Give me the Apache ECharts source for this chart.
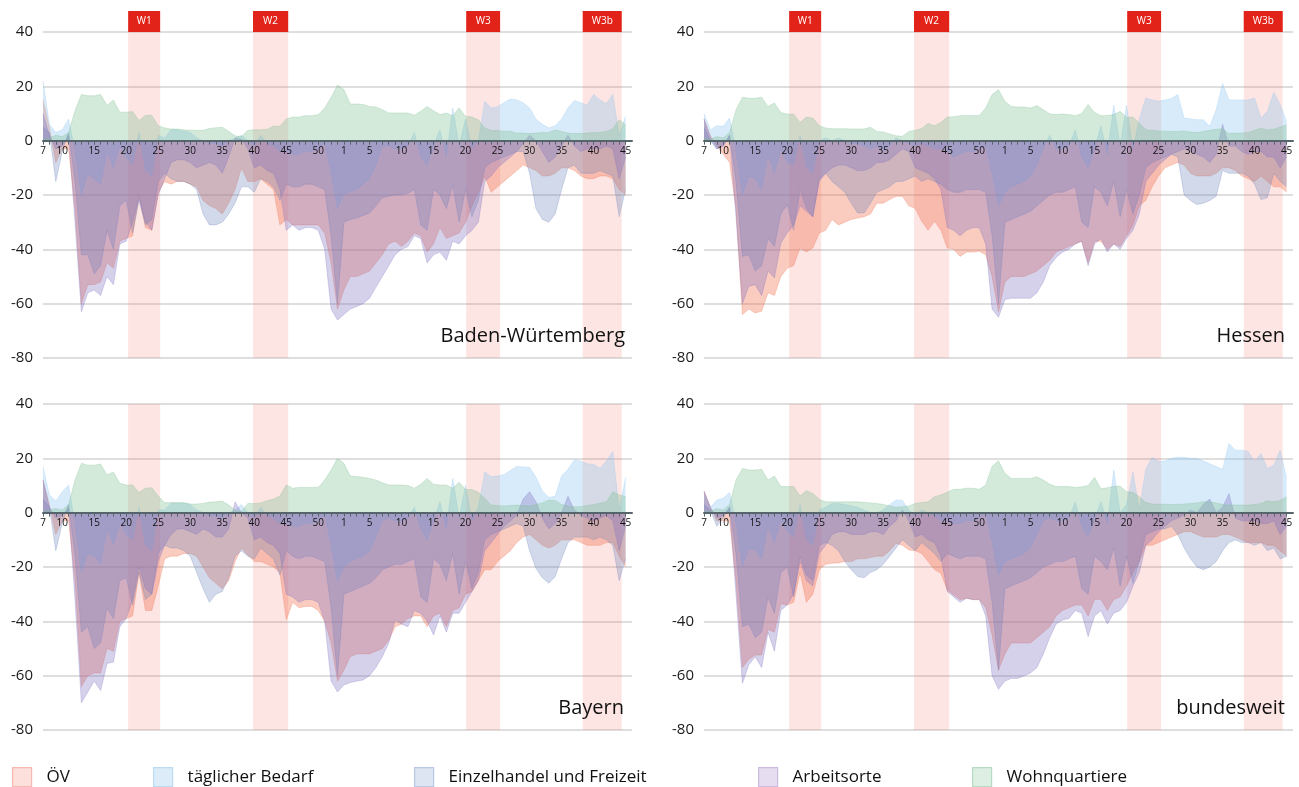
<!DOCTYPE html>
<html><head><meta charset="utf-8">
<script src="https://cdn.jsdelivr.net/npm/echarts@6/dist/echarts.min.js"></script>
<style>html,body{margin:0;padding:0;background:#fff}#c{width:1299px;height:787px}</style>
</head><body><div id="c"></div>
<script>
// ---------- tick labels / categories ----------
const weeks2020 = [7,8,9,10,11,12,13,14,15,16,17,18,19,20,21,22,23,24,25,26,27,28,29,30,31,32,33,34,35,36,37,38,39,40,41,42,43,44,45,46,47,48,49,50,51,52,53];
const weeks2021 = [1,2,3,4,5,6,7,8,9,10,11,12,13,14,15,16,17,18,19,20,21,22,23,24,25,26,27,28,29,30,31,32,33,34,35,36,37,38,39,40,41,42,43,44,45];
const yMin = -80, yMax = 40, yStep = 20;
const seriesNames = ['ÖV', 'täglicher Bedarf', 'Einzelhandel und Freizeit', 'Arbeitsorte', 'Wohnquartiere'];
const regions = ['Baden-Würtemberg', 'Hessen', 'Bayern', 'bundesweit'];
// survey waves (year, start week, end week)
const waves = [
  {label: 'W1', year: 2020, from: 20.3, to: 25.3},
  {label: 'W2', year: 2020, from: 39.8, to: 45.3},
  {label: 'W3', year: 2021, from: 20.1, to: 25.4},
  {label: 'W3b', year: 2021, from: 38.3, to: 44.4}
];

// ---------- Baden-Württemberg ----------
const bwOEV = [15,5,-8,-3,-3,-25,-60,-53,-53,-52, -45,-47,-37,-36,-35,-20,-32,-33,-19,-15, -16,-15,-15,-16,-17,-22,-24,-25,-27,-23, -18,-10,-15,-15,-14,-16,-18,-31,-29,-31, -31,-31,-31,-31,-34,-45,-62,
  -55,-50,-50,-49,-48,-45,-42,-38,-37,-39, -37,-34,-35,-41,-38,-32,-36,-35,-34,-30, -24,-19,-13,-19,-17,-15,-13,-11,-9,-10, -11,-13,-13,-12,-10,-10,-11,-13,-14,-14, -13,-13,-14,-18,-20];
const bwBedarf = [22,6,3,4,8,-4,-20,-12,-14,-16, -4,-10,-2,-6,-9,3,-11,-13,2,1, 4,4,3.5,3,1,0,-1,-1,-2,0, 1,2,0,-2,2,-1,-2,-4,-4,-5, -5,-4,-4,-3,-1,-12,-25,
  -20,-18.6,-18,-16,-14,-9,-2,-2,-3,-3, -2,3,-6,-9,-2,4,-6,12,-2,8, -3,0,14.5,12,12.5,14,15.3,15,14,12, 8,6,4.7,5.5,8,12,14.8,14,13,17, 15,13.6,17,2,9];
const bwHandel = [5,3,-15,-4,3,-15,-42,-42,-49,-46, -33,-40,-24,-22,-34,-22,-31,-29,-15,-12, -14,-15,-15,-16,-18,-27,-31,-31,-30,-27, -23,-17,-17,-19,-14,-15,-17,-22,-16,-17, -17,-16,-16,-17,-18,-35,-60,
  -30,-29,-28.5,-27.5,-26.6,-24,-21,-20.5,-20,-20, -19.4,-18,-31,-33,-18,-20,-25,-16.5,-30,-18, -28,-22,-10,-8,-7,-6,-5,-4,-4,-12, -25,-29,-30,-27,-18,-10,-9,-12,-12,-12, -11,-12,-13,-28,-18];
const bwArbeit = [10,2,-3,-2,2,-30,-63,-56,-55,-57, -50,-53,-38,-37,-30,-21,-30,-33,-20,-14, -8,-7,-7,-8,-10,-9,-8,-9,-12,-6, 1,0.5,-3,-10,-9,-11,-12,-18,-33,-31, -33,-32,-32,-33,-40,-62,-66,
  -64,-62,-61,-60,-58,-54,-50,-46,-42,-40, -39,-35,-36,-45,-42,-41,-44,-37,-38,-35, -33,-30,-15,-13,-10,-8,-6,-4,-1,2, 0,-4,-8,-6,-2,2,-2,-4,-3,-3, -3,-2,-3,-14,-6];
const bwWohnen = [0.5,1,2,1.5,3,11,17,16.5,16.5,17, 13,15,10.5,10.5,10.7,7.4,9.3,9.3,5.5,4.7, 4.3,4.3,4,3.8,3.8,3.8,4.5,4.8,4.9,3.5, 1.8,1.5,3.8,4,4,4.2,5.3,5.3,8,8.7, 8.7,9.2,9.2,9.6,12,16,20.5,
  18.8,13.5,13.5,13.3,12.6,12.4,11.4,10.2,10.2,10.2, 10.2,9.4,10.8,12.6,11,9.6,10.2,9.2,12,9, 8.7,7.7,4.7,3.7,3.7,3.5,3.5,2.8,2.8,2.6, 2.8,3,3,4,3.4,2.8,2.6,2.6,2.8,3, 3,3.4,4.4,7.7,5.9];

// ---------- Hessen ----------
const heOEV = [8,2,-2,-5,-8,-25,-64,-62,-63.4,-62.8, -56,-57,-50,-47,-46,-39.5,-41,-39.5,-34,-33, -29,-31,-30,-29,-28.5,-28,-27,-23,-23,-21.7, -20.5,-20.5,-24,-25,-29.7,-33,-29.7,-33,-39.5,-40, -42.6,-41,-41,-40.7,-42,-50,-63,
  -52,-50,-50,-50,-49,-48,-46,-44,-41,-40, -39,-38,-37,-45,-37,-37,-40,-38,-39,-35, -31,-24,-22,-17,-13,-10,-9,-8,-9,-12, -13,-13,-13,-12,-10,-10,-11,-13,-14,-15, -13,-15,-17,-17,-19];
const heBedarf = [10,4,5.5,5.3,8.3,-4,-20,-13,-14,-18, -5,-12,-3,-8,-9,2,-10,-12,0,1, 0,1,0,-1,-1,-2,-3,-2,-4,-2, 1,0,-1,-2,-1,-2,-3,-3,-4,-6, -5,-4,-4,-3,-2,-12,-24,
  -19,-17,-16,-15,-13,-9,-3,2,-3,-3, -2,4,-6,-10,-3,5.5,-5,13,-2,13, -3,8,15.7,15,14.5,15,15.5,17,8.3,8, 7.7,7.7,5.3,11.4,21,15,15,15,15,15.7, 8.3,10.8,17.8,13.3,7];
const heHandel = [5,0,-3,-2,2,-15,-42.6,-42,-48,-46, -36,-39,-27,-23.5,-33,-18,-25,-28,-14,-12, -15,-17,-19,-23,-26.6,-26.6,-23,-19,-18,-17, -15,-15,-14,-13,-15,-14,-15,-16,-18,-19, -19,-18,-18,-18,-19,-35,-60,
  -30,-29,-28,-27,-26,-24,-22,-20,-19,-19, -18,-17,-30,-32,-17,-19,-24,-15,-28,-18, -27,-20,-10,-8,-7,-6,-5,-6,-20,-22, -23.5,-23,-22,-20.5,-11,-12,-12,-12,-13,-16, -21.7,-21,-12,-15,-17];
const heArbeit = [8,1,-3,-2,2,-28,-60,-53.6,-53,-57, -48,-50.5,-37.7,-34,-31,-24,-26,-28,-15,-12, -10,-9,-9,-10,-11,-11,-10,-8,-8,-7, -5,-3,-4,-10,-11,-12,-14,-18,-32,-33, -35,-33,-32,-32,-38,-62,-65,
  -58.5,-58,-58,-58,-58,-56,-52,-46,-43,-41, -40,-38,-37,-46,-38,-36,-41,-38,-40,-36, -33,-27,-15,-12,-9,-7,-5,-4,-3,-4, -5,-6,-8,-5,6,-2,-2,-4,-5,-4, -4,-6,-6,-10,-6];
const heWohnen = [1,0.5,1.5,1,3,11.4,16,15.6,15.6,16, 12.6,13.9,10.4,9.8,9.8,6.7,8.7,8.3,5.5,4.7, 4.4,4.4,4.4,4.3,4.3,4.3,4.9,3.4,3.2,2.5, 1.8,1.6,3.4,3.8,4.5,6.3,5.5,6.7,8.7,8.8, 9.2,9.3,9.2,9.3,12,17,18.8,
  14.5,12.6,12.4,12.4,12,12.9,11.4,9.9,9.6,9.8, 9.6,9.2,10,13.3,10.4,9.2,9.3,9.6,10.8,8.6, 8.7,6.5,4,3.8,3.6,3.5,3.4,3.4,3.6,3.2, 3,3.4,3.8,4.2,4.4,2.6,2.8,2.8,3,3.8, 4.6,4,4.2,5,5.9];

// ---------- Bayern ----------
const byOEV = [12,3,-8,-3,-3,-25,-64,-60,-59,-59, -50,-51,-40,-39,-38,-22,-36,-36,-27,-17, -16,-16,-15,-15,-16,-20,-24,-26,-28,-25, -18,-13,-15.6,-18,-18,-19,-20,-22,-39.5,-33, -35,-34.5,-34.5,-36,-40,-48,-62,
  -58,-53,-52,-52,-52,-51,-50,-47,-42,-41, -39,-38,-38,-42,-38,-37,-42,-36,-35,-30, -29,-25,-21,-21,-18,-16,-14,-11,-9,-8, -10,-12,-13,-12,-10,-10,-10,-11,-12,-12, -12,-11,-11,-16,-20];
const byBedarf = [17,6.5,4.3,7.7,10.2,-4,-22,-15,-16,-19, -6,-12,-4,-8,-10,2,-12,-14,1,1, 3.5,3.5,3.5,3,1,0,-1,-1,-2,0, 1,3,0,-2,2,-1,-2,-4,-4,-5, -5,-4,-4,-3,-1,-12,-25,
  -20,-18,-17,-16,-14,-9,-3,-2,-3,-3, -2,2,-6,-10,-3,4,-6,12.6,-2,10, -3,2,15,13.2,13.5,14,15.5,17,16.8,16.7, 13,8,5.6,6,13.5,16,19.4,19,18,17.8, 16.3,19,22.5,1,13];
const byHandel = [5,2,-14,-4,3,-16,-44,-42,-50,-48, -35,-39,-25,-24,-34,-22,-32,-30,-15,-12, -13,-13,-14,-16,-22,-28,-33,-30,-29,-24, -16,-14,-16,-17,-13,-15,-17,-23,-14,-16, -17,-16,-16,-17,-18,-35,-60,
  -30,-29,-28,-27,-26,-24,-21,-20,-19,-19, -18,-17,-31,-33,-17,-19,-25,-15,-30,-18, -28,-22,-10,-8,-7,-6,-5,-4,-5,-14, -20.5,-24,-26,-23.5,-17,-11,-9,-9,-9,-10, -9,-10,-12,-25,-17];
const byArbeit = [12,2,-2,-1,2,-32,-70,-66,-62,-65.5, -55.5,-55,-42,-39,-32,-20,-28,-30,-18,-12, -8,-6,-6,-7,-8,-6,-7,-9,-9,-6, 4,0,-2,-10,-9,-11,-12,-15,-30,-31, -33,-32,-32,-33,-40,-62,-66,
  -63.4,-62.5,-62,-61.6,-60,-57,-53,-48,-39.5,-41, -42,-36,-37,-40,-45,-38,-44,-37,-37,-33, -29,-25,-14,-11,-8,-5,-3,-1,5,7.7, 4,-2,-6,-4,0,6,1,-1,-2,-3, -2,-1,-3,-14,-5];
const byWohnen = [0.5,1,1.5,1,3,12,18.2,17.5,17.5,17.9, 13.9,15,10.8,10.2,10.2,7.4,9,9.2,6.1,3.7, 3.7,3.7,3.7,3.2,3.2,3.4,3.9,4,4.3,2.8, 1,0.4,3.4,3.4,3.6,4.4,5,6.1,10.2,9, 9.3,9.3,9.3,9.3,12,15.7,20,
  18.2,13.5,13.3,13,12.6,12,11,10.2,10.2,10.2, 10,9,10.5,12.6,10.5,10.2,10.2,9,11.2,8.5, 8.5,7.5,5.3,2.8,2.6,2.5,2.6,2.8,2.6,2.5, 3,3.6,4.7,4.5,3,2.5,2.2,2.2,2.6,3, 3.5,4,7.7,6.5,6];

// ---------- bundesweit ----------
const deOEV = [8,2,-3,-3,-3,-25,-57,-54,-52.4,-52.4, -43,-44,-33.5,-34,-33,-22,-33,-30,-21,-19, -18.6,-18.5,-18,-18,-17,-17,-16.5,-16,-16,-14, -11.3,-12,-13.7,-14,-15,-18,-21,-22.3,-28.5,-30.3, -32,-31.5,-32,-32,-35,-45,-58,
  -52,-48,-48,-48,-48,-46,-44,-42,-38,-36, -35,-34,-34,-38,-32,-32,-36,-32,-31,-27, -22,-18,-12,-12,-11,-10,-9,-8,-7,-7, -8,-9,-9,-9,-8,-8,-9,-10,-11,-11, -11,-12,-12,-14,-16];
const deBedarf = [7,2,4.7,5.3,7.4,-4,-20,-13,-14,-17, -5,-11,-3,-7,-9,3,-10,-12,1,2, 3.4,3.4,3,2.5,2,1,0,0,1,3, 4.7,4.5,1,-1,1,0,-1,-3,-3,-4, -4,-3,-3,-2,0,-11,-23,
  -18,-17,-16,-15,-13,-8,-3,-2,-3,-3, -2,4,-5,-9,-2,4,-4,15.7,0,3, 15,1,16,20.4,18.8,19,20,20.4,20.4,20, 20,19,18,17,16,25.5,23,23,22.5,18.8, 21.8,16.3,17.5,23,12.6];
const deHandel = [3,1,-5,-2,2,-15,-42,-41,-46,-44, -31,-37,-22,-20,-31,-16,-23,-25,-12,-11, -12,-14,-18,-21,-23.5,-24,-22,-21,-19,-16, -13,-10,-12,-14,-11,-13,-15,-18,-15,-16, -17,-16,-16,-16,-17,-33,-58,
  -28,-27,-26,-25,-24,-22,-20,-19,-18,-18, -17,-16,-28,-30,-16,-18,-21,-13,-27,-16, -26,-18,-8,-7,-6,-6,-5,-8,-13,-17, -20,-21,-20,-18,-14,-11,-10,-11,-11,-12, -11,-14,-13,-17,-16];
const deArbeit = [8,2,-2,-1,2,-30,-62.8,-56,-53,-57, -44,-51,-36,-34,-30,-18,-25,-27,-15,-12, -8,-7,-7,-8,-8,-8,-7,-7,-8,-5, -3,1,-3,-9,-8,-10,-11,-16,-29,-31, -33,-31.5,-32,-32,-38,-60,-65,
  -62,-61,-61,-60,-59,-57,-52,-46,-41,-39.5, -39,-36,-37,-45.6,-38,-36,-41,-37,-36,-33, -27,-22,-12,-10,-7,-5,-3,-2,-1,1, 0,3,5,0,2,7,-2,-3,-3,-3, -4,-4,-3,-8,-5];
const deWohnen = [0.5,0.5,1.5,1,3,12,16.3,15.7,15.7,16, 12,13.5,9.6,9.6,9.6,6.1,8.1,7.1,4.9,4, 4,4,4,4,4,3.8,3.6,3.4,3,2.5, 2,2.2,2.5,3.4,3.7,4,5.9,6.5,7.5,8.6, 8.6,9,9,8.6,10.2,17,19.1,
  14.5,12.6,12.6,12.6,12.6,13.2,12,10.5,9.6,9.6, 9.6,9.3,9.5,10,13,8.8,9.2,9.6,9.8,7.7, 7.5,5.9,3.7,3.2,3.1,3.1,3,3.1,3.2,3.4, 3.6,4,4,3.6,3,2.8,2.8,2.8,2.8,3, 3.4,4.4,4,4.5,5.9];

// ---------- build ----------
const FONT = '"Open Sans", "Noto Sans", sans-serif';
const categories = weeks2020.map(String).concat(weeks2021.map(String), ['']);
const nPoints = weeks2020.length + weeks2021.length;
function weekIndex(year, w) {
  return year === 2020 ? w - weeks2020[0] : weeks2020.length + (w - weeks2021[0]);
}
const panels = [
  {title: regions[0], data: [bwOEV, bwBedarf, bwHandel, bwArbeit, bwWohnen]},
  {title: regions[1], data: [heOEV, heBedarf, heHandel, heArbeit, heWohnen]},
  {title: regions[2], data: [byOEV, byBedarf, byHandel, byArbeit, byWohnen]},
  {title: regions[3], data: [deOEV, deBedarf, deHandel, deArbeit, deWohnen]}
];
const GRID_W = 589, GRID_H = 326;
const layout = [
  {left: 43, top: 32, titleRight: 674, titleTop: 326, waveLabels: true},
  {left: 704, top: 32, titleRight: 14, titleTop: 326, waveLabels: true},
  {left: 43, top: 404, titleRight: 675, titleTop: 698, waveLabels: false},
  {left: 704, top: 404, titleRight: 14, titleTop: 698, waveLabels: false}
];
const styles = [
  {base: '#f0704e', fill: '#fde0dc', border: '#f4b9b0', op: 0.36},
  {base: '#8ec4f0', fill: '#dcedf9', border: '#b9dcf2', op: 0.34},
  {base: '#6a80b8', fill: '#dde5f2', border: '#b8c8e3', op: 0.30},
  {base: '#7d6fc0', fill: '#e6def0', border: '#cbbbdf', op: 0.32},
  {base: '#7fbf93', fill: '#ddefe3', border: '#b5dcc2', op: 0.34}
];
const legendLeft = [12, 153, 414, 758, 972];
// x axis sits at value 0: shift it up from the grid bottom
const zeroOffset = -GRID_H * (0 - yMin) / (yMax - yMin);

const grid = [], xAxis = [], yAxis = [], series = [], title = [], legend = [];
layout.forEach((L, g) => {
  grid.push({left: L.left, top: L.top, width: GRID_W, height: GRID_H});
  xAxis.push({
    type: 'category', gridIndex: g, data: categories, boundaryGap: false, z: 10,
    position: 'bottom', offset: zeroOffset,
    axisLine: {onZero: false, lineStyle: {color: '#56646c', width: 2}},
    axisTick: {show: true, length: 4, interval: (i) => i < nPoints, lineStyle: {color: '#56646c', width: 1}},
    axisLabel: {
      interval: (i, v) => v !== '' && (i === 0 || (+v) % 5 === 0 || +v === 1),
      fontSize: 10, color: '#111', margin: 5, fontFamily: FONT, hideOverlap: false
    },
    splitLine: {show: false}
  });
  yAxis.push({
    type: 'value', gridIndex: g, min: yMin, max: yMax, interval: yStep,
    axisLine: {show: false}, axisTick: {show: false},
    axisLabel: {fontSize: 15, color: '#1a1a1a', margin: 10, fontFamily: FONT},
    splitLine: {lineStyle: {color: '#d3d3d3', width: 1.5}}
  });
  title.push({
    text: panels[g].title, right: L.titleRight, top: L.titleTop, padding: 0,
    textStyle: {fontSize: 20, fontWeight: 'normal', color: '#111', fontFamily: FONT}
  });
});
// hidden value axes for the wave bands
layout.forEach((L, g) => {
  xAxis.push({type: 'value', gridIndex: g, min: 0, max: nPoints, show: false, axisLine: {onZero: false}});
});

layout.forEach((L, g) => {
  const showLabels = L.waveLabels;
  series.push({
    type: 'custom', xAxisIndex: layout.length + g, yAxisIndex: g, z: 1, silent: true, clip: false,
    data: waves.map(w => [weekIndex(w.year, w.from), weekIndex(w.year, w.to)]),
    renderItem: function (params, api) {
      const w = waves[params.dataIndex];
      const a = api.coord([api.value(0), yMax]);
      const b = api.coord([api.value(1), yMin]);
      const children = [{type: 'rect', shape: {x: a[0], y: a[1], width: b[0] - a[0], height: b[1] - a[1]},
        style: {fill: 'rgba(240,110,100,0.18)'}}];
      if (showLabels) {
        children.push({type: 'rect', shape: {x: a[0], y: a[1] - 21, width: b[0] - a[0], height: 21}, style: {fill: '#e2231a'}});
        children.push({type: 'text', style: {text: w.label, x: (a[0] + b[0]) / 2, y: a[1] - 10.5,
          align: 'center', verticalAlign: 'middle', fill: '#fff', fontSize: 10, fontFamily: FONT}});
      }
      return {type: 'group', children: children};
    }
  });
  panels[g].data.forEach((arr, s) => {
    const st = styles[s];
    series.push({
      type: 'line', name: seriesNames[s], xAxisIndex: g, yAxisIndex: g, data: arr,
      symbol: 'none', silent: true, z: 2 + s * 0.01,
      lineStyle: {width: 0.8, color: st.base, opacity: 0.35},
      itemStyle: {color: st.base},
      areaStyle: {color: st.base, opacity: st.op, origin: 0}
    });
  });
});

seriesNames.forEach((name, s) => {
  legend.push({
    data: [{name: name, icon: 'rect', itemStyle: {color: styles[s].fill, borderColor: styles[s].border, borderWidth: 1.2}}],
    left: legendLeft[s], top: 767, padding: 0, itemWidth: 19, itemHeight: 19, selectedMode: false,
    textStyle: {fontSize: 17, color: '#111', fontFamily: FONT, padding: [0, 0, 0, 10]}
  });
});

const chart = echarts.init(document.getElementById('c'), null, {renderer: 'canvas'});
chart.setOption({animation: false, backgroundColor: '#fff', grid, xAxis, yAxis, series, title, legend});
</script>
</body></html>
